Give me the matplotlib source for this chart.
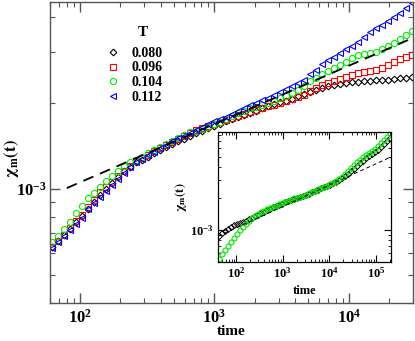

# Relaxation curves chi_m(t) for several temperatures, with inset
import numpy as np
import matplotlib
matplotlib.use('Agg')
import matplotlib.pyplot as plt
from matplotlib.ticker import LogLocator, LogFormatterMathtext, NullFormatter

plt.rcParams['font.family'] = ['Liberation Serif', 'DejaVu Serif']
plt.rcParams['font.weight'] = 'bold'
plt.rcParams['mathtext.fontset'] = 'stix'
plt.rcParams['mathtext.default'] = 'bf'

# ---- main panel data (chi in units of 1e-3) ----
time_main = [62, 69, 76, 84, 93, 104, 115, 127, 141, 156, 173, 192, 212, 235, 261,
             289, 320, 355, 393, 436, 483, 535, 593, 657, 729, 808, 895, 992, 1099,
             1218, 1349, 1495, 1657, 1836, 2035, 2255, 2499, 2770, 3069, 3401, 3769,
             4177, 4629, 5129, 5684, 6300, 6982, 7737, 8574, 9500, 10530, 11670,
             12930, 14330, 15880, 17600, 19500, 21610, 23950, 26540, 29410]

chi_080 = [.627, .657, .690, .725, .766, .804, .851, .901, .953, 1.000,
           1.049, 1.101, 1.156, 1.194, 1.243, 1.263, 1.294, 1.336, 1.369, 1.402,
           1.437, 1.472, 1.496, 1.532, 1.570, 1.596, 1.634, 1.661, 1.687, 1.729,
           1.757, 1.785, 1.814, 1.844, 1.874, 1.919, 1.950, 1.982, 2.014, 2.031,
           2.064, 2.114, 2.149, 2.184, 2.219, 2.255, 2.292, 2.310, 2.329, 2.348,
           2.367, 2.367, 2.386, 2.386, 2.405, 2.405, 2.405, 2.424, 2.443, 2.443,
           2.463]
chi_096 = [.627, .657, .690, .731, .772, .811, .865, .916, .976, 1.016,
           1.058, 1.110, 1.156, 1.204, 1.253, 1.283, 1.315, 1.358, 1.391, 1.425,
           1.460, 1.496, 1.532, 1.570, 1.608, 1.634, 1.661, 1.687, 1.715, 1.743,
           1.771, 1.800, 1.829, 1.859, 1.889, 1.919, 1.950, 1.966, 1.998, 2.031,
           2.064, 2.097, 2.131, 2.201, 2.255, 2.310, 2.348, 2.386, 2.424, 2.463,
           2.503, 2.544, 2.565, 2.585, 2.606, 2.648, 2.713, 2.779, 2.848, 2.894,
           2.941]
chi_104 = [.652, .684, .725, .766, .824, .872, .930, .968, 1.016, 1.067,
           1.110, 1.156, 1.204, 1.243, 1.263, 1.294, 1.336, 1.369, 1.402, 1.437,
           1.472, 1.508, 1.545, 1.583, 1.596, 1.621, 1.647, 1.687, 1.715, 1.757,
           1.800, 1.844, 1.874, 1.919, 1.935, 1.966, 1.998, 2.031, 2.081, 2.114,
           2.166, 2.219, 2.292, 2.386, 2.443, 2.523, 2.585, 2.648, 2.713, 2.779,
           2.871, 2.941, 2.965, 2.989, 3.013, 3.086, 3.161, 3.239, 3.345, 3.454,
           3.567]
chi_112 = [.622, .652, .684, .719, .755, .791, .851, .894, .938, .984,
           1.033, 1.084, 1.138, 1.194, 1.243, 1.273, 1.315, 1.347, 1.391, 1.425,
           1.472, 1.508, 1.532, 1.570, 1.608, 1.647, 1.687, 1.729, 1.757, 1.785,
           1.829, 1.874, 1.919, 1.966, 1.998, 2.048, 2.081, 2.131, 2.184, 2.237,
           2.292, 2.348, 2.405, 2.523, 2.606, 2.735, 2.825, 2.894, 2.989, 3.086,
           3.161, 3.265, 3.399, 3.539, 3.654, 3.744, 3.866, 3.993, 4.123, 4.292,
           4.468]

# power law fit (dashed)
fit_t = [80, 29900]
fit_chi = [1.008, 3.37]

temps = ['0.080', '0.096', '0.104', '0.112']

# ---- inset data ----
time_inset = [43.2, 50.2, 58.1, 67.4, 78.2, 90.6, 105.1, 121.8, 141.2, 163.7,
              189.8, 220.1, 255.2, 295.9, 343.1, 397.8, 461.2, 534.6, 620, 718.7,
              833.3, 966.1, 1120, 1299, 1506, 1746, 2024, 2347, 2721, 3155,
              3658, 4241, 4917, 5701, 6610, 7663, 8885, 10300, 11940, 13850,
              16060, 18610, 21580, 25020, 29010, 33640, 39000, 45220, 52430, 60780,
              70470, 81710, 94720, 109800, 127300, 147600, 171200, 198400]
inset_black = [.877, .936, .978, 1.022, 1.068, 1.116, 1.141, 1.166, 1.192, 1.218,
               1.273, 1.301, 1.359, 1.389, 1.451, 1.484, 1.551, 1.585, 1.657, 1.693,
               1.731, 1.769, 1.848, 1.889, 1.931, 1.974, 2.017, 2.062, 2.108, 2.155,
               2.203, 2.301, 2.352, 2.404, 2.512, 2.568, 2.625, 2.683, 2.804, 2.866,
               2.994, 3.128, 3.270, 3.415, 3.647, 3.811, 4.070, 4.346, 4.541, 4.850,
               5.070, 5.294, 5.531, 5.779, 6.172, 6.590, 7.041, 7.519]
inset_green = [.530, .591, .645, .704, .769, .839, .916, 1.0, 1.068, 1.141,
               1.218, 1.301, 1.359, 1.420, 1.484, 1.517, 1.585, 1.620, 1.657, 1.693,
               1.769, 1.808, 1.848, 1.889, 1.931, 2.017, 2.040, 2.062, 2.108, 2.178,
               2.251, 2.301, 2.378, 2.457, 2.512, 2.596, 2.653, 2.742, 2.834, 2.929,
               3.060, 3.198, 3.415, 3.647, 3.895, 4.160, 4.443, 4.642, 4.958, 5.179,
               5.411, 5.654, 5.907, 6.309, 6.739, 7.197, 7.687, 8.39]
inset_fit_t = [41, 210000]
inset_fit_chi = [0.873, 4.98]

scale = 1e-3

fig = plt.figure(figsize=(4.15, 3.41), dpi=100)
ax = fig.add_axes([0.1205, 0.1114, 0.8747, 0.8827])

styles = [('D', 'black', 3.4), ('s', 'red', 3.8), ('o', '#00ee00', 4.4), ('<', 'blue', 4.6)]
series = [chi_080, chi_096, chi_104, chi_112]
for vals, (mk, col, ms), lab in zip(series, styles, temps):
    ax.plot(time_main, np.array(vals) * scale, linestyle='none', marker=mk, ms=ms,
            mfc='none', mec=col, mew=0.8, label=lab, zorder=2)

ax.plot(fit_t, np.array(fit_chi) * scale, color='black', lw=1.3,
        dashes=(6, 4), zorder=3)

ax.set_xscale('log')
ax.set_yscale('log')
ax.set_xlim(60, 30000)
ax.set_ylim(4.0e-4, 4.5e-3)

for sp in ax.spines.values():
    sp.set_color('#555555')
    sp.set_linewidth(1.0)
ax.tick_params(which='both', direction='in', top=True, right=True, color='#555555')
ax.tick_params(which='major', length=7, width=1.0, labelsize=12)
ax.tick_params(which='minor', length=3.5, width=0.8)
ax.tick_params(axis='x', which='major', pad=4)
ax.tick_params(axis='y', which='major', pad=2)
ax.xaxis.set_major_formatter(LogFormatterMathtext())
ax.yaxis.set_major_formatter(LogFormatterMathtext())
ax.xaxis.set_minor_formatter(NullFormatter())
ax.yaxis.set_minor_formatter(NullFormatter())

ax.set_xlabel('time', fontsize=11, fontweight='bold')
ax.xaxis.set_label_coords(0.5, -0.073)
ax.set_ylabel(r'$\chi_{\mathbf{m}}\mathbf{(t)}$', fontsize=12)
ax.yaxis.set_label_coords(-0.08, 0.48)

leg = ax.legend(loc='upper left', bbox_to_anchor=(0.12, 0.893), frameon=False,
                handlelength=1.0, handletextpad=0.8, labelspacing=0.12,
                borderpad=0.4, prop=dict(family='Liberation Serif', weight='bold', size=10))
ax.text(0.256, 0.90, 'T', transform=ax.transAxes, ha='center', va='center',
        fontsize=11, fontweight='bold')

# ---- inset ----
ins = fig.add_axes([0.5253, 0.2317, 0.4169, 0.3812])
ins.plot(time_inset, np.array(inset_black) * scale, linestyle='none', marker='D',
         ms=3.0, mfc='none', mec='black', mew=0.7, zorder=2)
ins.plot(time_inset, np.array(inset_green) * scale, linestyle='none', marker='o',
         ms=3.6, mfc='none', mec='#00ee00', mew=0.8, zorder=2)
ins.plot(inset_fit_t, np.array(inset_fit_chi) * scale, color='black', lw=0.7,
         dashes=(4, 3), zorder=3)
ins.set_xscale('log')
ins.set_yscale('log')
ins.set_xlim(41, 2.1e5)
ins.set_ylim(4.96e-4, 8.6e-3)
for sp in ins.spines.values():
    sp.set_color('black')
    sp.set_linewidth(0.9)
ins.tick_params(which='both', direction='in', top=True, right=True)
ins.tick_params(which='major', length=5, width=0.8, labelsize=9, pad=3)
ins.tick_params(which='minor', length=2.5, width=0.6)
ins.xaxis.set_major_locator(LogLocator(base=10, numticks=10))
ins.xaxis.set_major_formatter(LogFormatterMathtext())
ins.yaxis.set_major_formatter(LogFormatterMathtext())
ins.xaxis.set_minor_formatter(NullFormatter())
ins.yaxis.set_minor_formatter(NullFormatter())
ins.set_xlabel('time', fontsize=9, fontweight='bold')
ins.xaxis.set_label_coords(0.5, -0.175)
ins.set_ylabel(r'$\chi_{\mathbf{m}}\mathbf{(t)}$', fontsize=9)
ins.yaxis.set_label_coords(-0.17, 0.5)

fig.savefig('out.png', dpi=100)
